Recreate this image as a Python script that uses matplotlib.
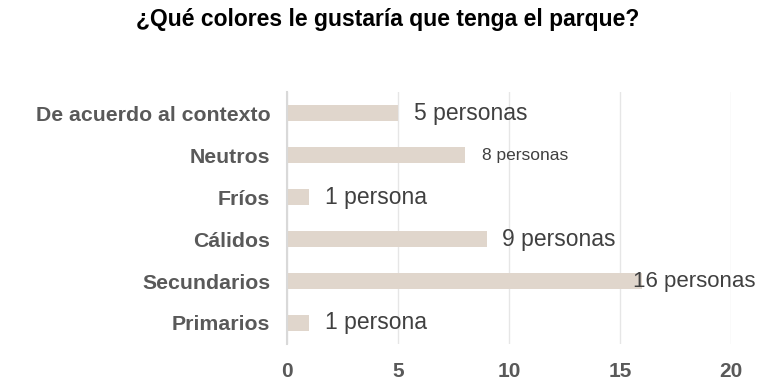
import matplotlib
matplotlib.use("Agg")
import matplotlib.pyplot as plt

categories = ["De acuerdo al contexto", "Neutros", "Fríos", "Cálidos", "Secundarios", "Primarios"]
counts = [5, 8, 1, 9, 16, 1]
value_labels = ["5 personas", "8 personas", "1 persona", "9 personas", "16 personas", "1 persona"]
label_sizes = [16.5, 12.5, 16.5, 16.5, 16, 16.5]
label_offsets = [0.7, 0.8, 0.7, 0.7, -0.4, 0.7]
x_ticks = [0, 5, 10, 15, 20]

plt.rcParams["font.family"] = ["Liberation Sans", "DejaVu Sans"]

fig = plt.figure(figsize=(7.71, 3.82), dpi=100)
ax = fig.add_axes([0.3722, 0.0995, 0.576, 0.6595])

ypos = list(range(len(categories)))[::-1]
ax.barh(ypos, counts, height=0.36, color="#e0d6cc", zorder=2)

for y, v, lab, fs, off in zip(ypos, counts, value_labels, label_sizes, label_offsets):
    ax.text(v + off, y, lab, va="center", ha="left", fontsize=fs, color="#404040", zorder=3)

ax.set_xlim(0, 20)
ax.set_ylim(-0.5, len(categories) - 0.5)
ax.set_xticks(x_ticks)
ax.set_xticklabels([str(t) for t in x_ticks], fontsize=15, fontweight="bold", color="#595959")
ax.set_yticks(ypos)
ax.set_yticklabels(categories, fontsize=15.3, fontweight="bold", color="#595959")
ax.tick_params(axis="both", length=0)
ax.tick_params(axis="x", pad=13)
ax.tick_params(axis="y", pad=12)

ax.grid(axis="x", color="#e6e6e6", linewidth=1, zorder=0)
for side in ["top", "right", "bottom"]:
    ax.spines[side].set_visible(False)
ax.spines["left"].set_color("#d9d9d9")
ax.spines["left"].set_linewidth(1.5)
ax.spines["left"].set_zorder(4)

fig.text(0.503, 0.948, "¿Qué colores le gustaría que tenga el parque?", ha="center", va="center",
         fontsize=16.5, fontweight="bold", color="#000000")

fig.savefig("out.png", dpi=100)
